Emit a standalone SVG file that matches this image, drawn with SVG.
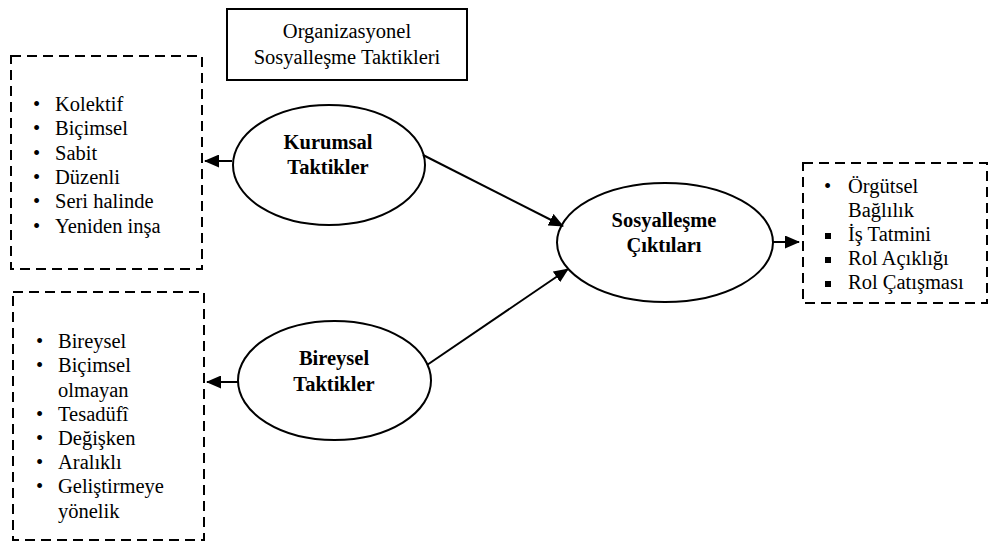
<svg xmlns="http://www.w3.org/2000/svg" width="988" height="542" viewBox="0 0 988 542">
<style>
.txt{font-family:"Liberation Serif","Times New Roman",serif;font-size:20.5px;fill:#000}
.bold{font-weight:bold}
.dash{fill:none;stroke:#000;stroke-width:2;stroke-dasharray:10 6}
.ell{fill:#fff;stroke:#000;stroke-width:2}
.sq{fill:#000}
.con{stroke:#000;stroke-width:2;fill:none;marker-end:url(#ah)}
</style>
<defs>
<marker id="ah" markerUnits="userSpaceOnUse" markerWidth="15" markerHeight="13" refX="14" refY="6.5" orient="auto">
<path d="M0,0 L15,6.5 L0,13 z" fill="#000"/>
</marker>
</defs>
<rect width="988" height="542" fill="#fff"/>
<g class="txt">
<g id="title">
<rect x="227" y="9" width="240" height="71" fill="#fff" stroke="#000" stroke-width="2"/>
<text x="347" y="38" text-anchor="middle">Organizasyonel</text>
<text x="347" y="64" text-anchor="middle">Sosyalleşme Taktikleri</text>
</g>
<g id="kurumsal-list">
<rect class="dash" x="11" y="56" width="191" height="213"/>
<text x="33" y="111">•</text><text x="55" y="111">Kolektif</text>
<text x="33" y="135">•</text><text x="55" y="135">Biçimsel</text>
<text x="33" y="160">•</text><text x="55" y="160">Sabit</text>
<text x="33" y="184">•</text><text x="55" y="184">Düzenli</text>
<text x="33" y="208">•</text><text x="55" y="208">Seri halinde</text>
<text x="33" y="233">•</text><text x="55" y="233">Yeniden inşa</text>
</g>
<g id="bireysel-list">
<rect class="dash" x="13" y="292" width="191" height="248"/>
<text x="36" y="348">•</text><text x="58" y="348">Bireysel</text>
<text x="36" y="372">•</text><text x="58" y="372">Biçimsel</text>
<text x="58" y="397">olmayan</text>
<text x="36" y="421">•</text><text x="58" y="421">Tesadüfî</text>
<text x="36" y="445">•</text><text x="58" y="445">Değişken</text>
<text x="36" y="469">•</text><text x="58" y="469">Aralıklı</text>
<text x="36" y="493">•</text><text x="58" y="493">Geliştirmeye</text>
<text x="58" y="518">yönelik</text>
</g>
<g id="kurumsal" class="bold">
<ellipse class="ell" cx="329" cy="165" rx="96" ry="60"/>
<text x="328" y="149" text-anchor="middle">Kurumsal</text>
<text x="328" y="174" text-anchor="middle">Taktikler</text>
</g>
<g id="bireysel" class="bold">
<ellipse class="ell" cx="334.5" cy="380.5" rx="96.5" ry="59.5"/>
<text x="334" y="365" text-anchor="middle">Bireysel</text>
<text x="334" y="391" text-anchor="middle">Taktikler</text>
</g>
<g id="ciktilar" class="bold">
<ellipse class="ell" cx="665" cy="242.5" rx="108" ry="59.5"/>
<text x="664" y="227" text-anchor="middle">Sosyalleşme</text>
<text x="664" y="252" text-anchor="middle">Çıktıları</text>
</g>
<g id="ciktilar-list">
<rect class="dash" x="803" y="163" width="184" height="140"/>
<text x="824" y="193">•</text><text x="848" y="193">Örgütsel</text>
<text x="848" y="217">Bağlılık</text>
<rect class="sq" x="825" y="233" width="6" height="6"/><text x="848" y="241">İş Tatmini</text>
<rect class="sq" x="825" y="257" width="6" height="6"/><text x="848" y="265">Rol Açıklığı</text>
<rect class="sq" x="825" y="281" width="6" height="6"/><text x="848" y="289">Rol Çatışması</text>
</g>
</g>
<g id="connectors">
<line class="con" x1="232" y1="161" x2="205" y2="161"/>
<line class="con" x1="238" y1="382" x2="207" y2="382"/>
<line class="con" x1="773" y1="242" x2="799" y2="242"/>
<line class="con" x1="423" y1="155" x2="563" y2="226"/>
<line class="con" x1="427" y1="365" x2="568" y2="269"/>
</g>
</svg>
